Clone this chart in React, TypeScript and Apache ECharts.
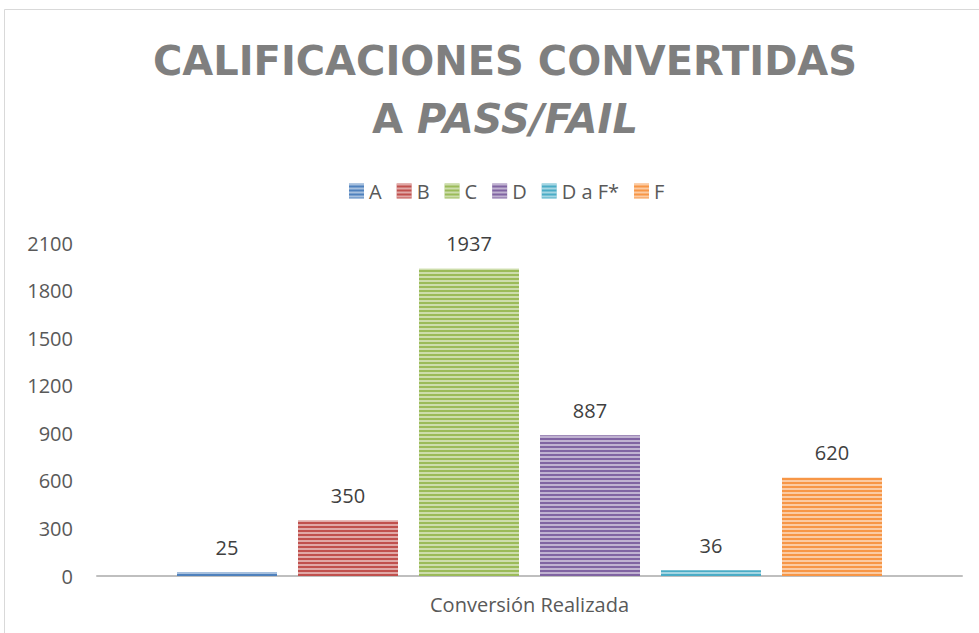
import React, { useEffect, useRef } from "react";
import * as echarts from "echarts";

const category = ["Conversión Realizada"];
const seriesNames = ["A", "B", "C", "D", "D a F*", "F"];
const seriesValues = [25, 350, 1937, 887, 36, 620];
const seriesColors = ["#4f81bd", "#c0504d", "#9bbb59", "#8064a2", "#4bacc6", "#f79646"];
const yTicks = [0, 300, 600, 900, 1200, 1500, 1800, 2100];

export default function App() {
  const ref = useRef<HTMLDivElement>(null);
  useEffect(() => {
    if (!ref.current) return;
    const chart = echarts.init(ref.current, undefined, { renderer: "svg" });
    const stripe = {
      symbol: "rect",
      symbolSize: 1,
      dashArrayX: [1, 0],
      dashArrayY: [2, 2],
      color: "rgba(255,255,255,0.5)",
      rotation: 0,
    };
    chart.setOption({
      animation: false,
      backgroundColor: "#ffffff",
      graphic: [
        {
          type: "rect",
          shape: { x: 4.5, y: 9.5, width: 1200, height: 1200 },
          style: { fill: "none", stroke: "#d9d9d9", lineWidth: 1 },
          silent: true,
          z: -1,
        },
      ],
      title: {
        text: "{a|CALIFICACIONES CONVERTIDAS}\n{a|A }{b|PASS/FAIL}",
        left: 500,
        textAlign: "center",
        top: 27,
        textStyle: {
          rich: {
            a: {
              fontFamily: "DejaVu Sans",
              fontWeight: "bold",
              fontSize: 40,
              color: "#7f7f7f",
              lineHeight: 58,
            },
            b: {
              fontFamily: "DejaVu Sans",
              fontWeight: "bold",
              fontStyle: "italic",
              fontSize: 40,
              color: "#7f7f7f",
              lineHeight: 58,
            },
          },
        },
      },
      legend: {
        data: seriesNames,
        left: 344,
        top: 176,
        itemWidth: 15,
        itemHeight: 15,
        itemGap: 15,
        icon: "rect",
        textStyle: { fontFamily: "Open Sans", fontSize: 20, color: "#595959" },
      },
      grid: { left: 97, right: 17, top: 243, bottom: 57, containLabel: false },
      xAxis: {
        type: "category",
        data: category,
        axisLine: { lineStyle: { color: "#bfbfbf", width: 2 } },
        axisTick: { show: false },
        axisLabel: { fontFamily: "Open Sans", fontSize: 20, color: "#595959", margin: 18 },
      },
      yAxis: {
        type: "value",
        min: yTicks[0],
        max: yTicks[yTicks.length - 1],
        interval: yTicks[1] - yTicks[0],
        splitLine: { show: false },
        axisLine: { show: false },
        axisTick: { show: false },
        axisLabel: {
          fontFamily: "Open Sans",
          fontSize: 20,
          color: "#595959",
          margin: 24,
          formatter: (v: number) => String(v),
        },
      },
      series: seriesNames.map((name, i) => ({
        name,
        type: "bar",
        barWidth: 100,
        barGap: "21%",
        data: [seriesValues[i]],
        itemStyle: { color: seriesColors[i], decal: stripe },
        label: {
          show: true,
          position: "top",
          distance: 15,
          fontFamily: "Open Sans",
          fontSize: 20,
          color: "#404040",
        },
      })),
    });
    return () => chart.dispose();
  }, []);
  return (
    <div
      ref={ref}
      style={{ position: "fixed", left: 0, top: 0, width: 979, height: 633 }}
    />
  );
}
